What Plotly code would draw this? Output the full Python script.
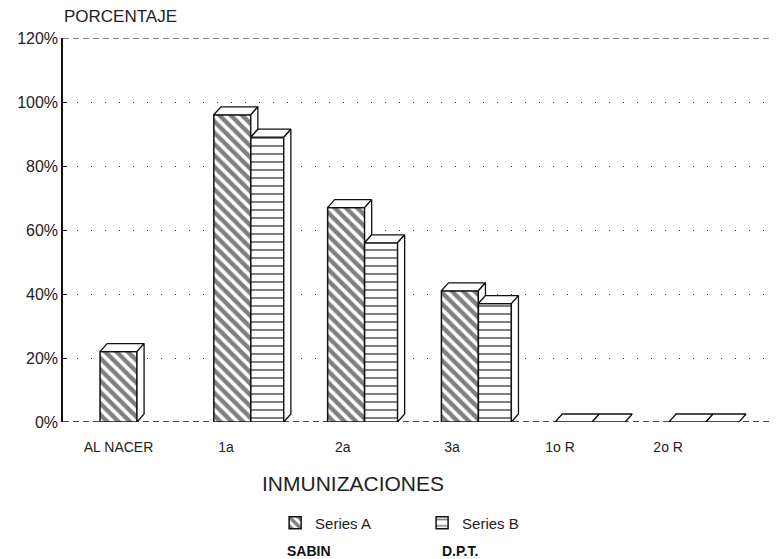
import plotly.graph_objects as go

# Immunization coverage by dose
categories = ["AL NACER", "1a", "2a", "3a", "1o R", "2o R"]
sabin = [22, 96, 67, 41, 0, 0]        # Series A (SABIN)
dpt = [None, 89, 56, 37, 0, 0]        # Series B (D.P.T.)
y_ticks = [0, 20, 40, 60, 80, 100, 120]
y_tick_text = ["0%", "20%", "40%", "60%", "80%", "100%", "120%"]

# geometry of the pseudo-3D bars (in axis units)
W_A, W_B = 0.325, 0.29
OFF_A = -0.1625
OFF_B = OFF_A + W_A
DX, DY = 0.062, 2.5
label_pos = [0, 0.945, 1.97, 2.93, 3.88, 4.83]

xs = list(range(len(categories)))
ink = "#111111"
font = "Liberation Sans, Arial, sans-serif"

fig = go.Figure()

fig.add_trace(go.Bar(
    x=xs, y=sabin, offset=OFF_A, width=W_A, name="Series A",
    marker=dict(color="white", line=dict(color=ink, width=1.5),
                pattern=dict(shape="\\", fgcolor="#000", bgcolor="white",
                             size=8, solidity=0.55)),
))
fig.add_trace(go.Bar(
    x=xs, y=dpt, offset=OFF_B, width=W_B, name="Series B",
    marker=dict(color="white", line=dict(color=ink, width=1.5),
                pattern=dict(shape="-", fgcolor="#000", bgcolor="white",
                             size=8, solidity=0.25)),
))


def face(px, py):
    fig.add_trace(go.Scatter(
        x=px + [px[0]], y=py + [py[0]], mode="lines", fill="toself",
        fillcolor="white", line=dict(color=ink, width=1.3),
        showlegend=False, hoverinfo="skip",
    ))


# top and side faces, series A first so series B sits in front
for i, (a, b) in enumerate(zip(sabin, dpt)):
    if a is not None:
        x0 = i + OFF_A
        x1 = x0 + W_A
        face([x0, x0 + DX, x1 + DX, x1], [a, a + DY, a + DY, a])
        floor = b if b is not None else 0
        if a > floor:
            face([x1, x1 + DX, x1 + DX, x1], [a, a + DY, floor + DY, floor])
for i, b in enumerate(dpt):
    if b is not None:
        x0 = i + OFF_B
        x1 = x0 + W_B
        face([x0, x0 + DX, x1 + DX, x1], [b, b + DY, b + DY, b])
        if b > 0:
            face([x1, x1 + DX, x1 + DX, x1], [b, b + DY, DY, 0])

fig.update_layout(
    width=778, height=559,
    margin=dict(l=63, r=8, t=38, b=137),
    paper_bgcolor="white", plot_bgcolor="white",
    barmode="overlay",
    font=dict(family=font, color=ink),
    showlegend=True,
    legend=dict(orientation="h", x=0.3, y=-0.22, xanchor="left",
                yanchor="top", font=dict(size=15, color="#222"),
                entrywidth=102, bgcolor="rgba(0,0,0,0)"),
    xaxis=dict(range=[-0.488, 5.725], tickvals=label_pos,
               ticktext=categories, showgrid=False, zeroline=False,
               showline=False, ticks="outside", ticklen=12,
               tickcolor="rgba(0,0,0,0)",
               tickfont=dict(size=14, color="#222"), fixedrange=True),
    yaxis=dict(range=[0, 120], tickvals=y_ticks, ticktext=y_tick_text,
               showgrid=True, gridcolor="#333", griddash="1px,13px",
               gridwidth=1, zeroline=False, showline=True, linecolor=ink,
               linewidth=1.5, ticks="inside", ticklen=4, tickcolor=ink,
               tickfont=dict(size=16, color="#222"), fixedrange=True),
    shapes=[
        dict(type="line", xref="paper", yref="y", x0=0, x1=1, y0=120, y1=120,
             line=dict(color=ink, width=1.2, dash="6px,4px"), layer="below"),
        dict(type="line", xref="paper", yref="y", x0=0, x1=1, y0=0, y1=0,
             line=dict(color=ink, width=1.3, dash="6px,4px"), layer="below"),
    ],
    annotations=[
        dict(text="PORCENTAJE", xref="paper", yref="paper", x=-0.002, y=1.0,
             xanchor="left", yanchor="bottom", yshift=10, showarrow=False,
             font=dict(size=17, color="#222")),
        dict(text="INMUNIZACIONES", xref="paper", yref="paper", x=0.41,
             y=-0.124, xanchor="center", yanchor="top", showarrow=False,
             font=dict(size=21, color="#222")),
        dict(text="<b>SABIN</b>", xref="paper", yref="paper", x=0.314,
             y=-0.31, xanchor="left", yanchor="top", showarrow=False,
             font=dict(size=14, color=ink)),
        dict(text="<b>D.P.T.</b>", xref="paper", yref="paper", x=0.533,
             y=-0.31, xanchor="left", yanchor="top", showarrow=False,
             font=dict(size=14, color=ink)),
    ],
)

fig.write_html("out.html")
